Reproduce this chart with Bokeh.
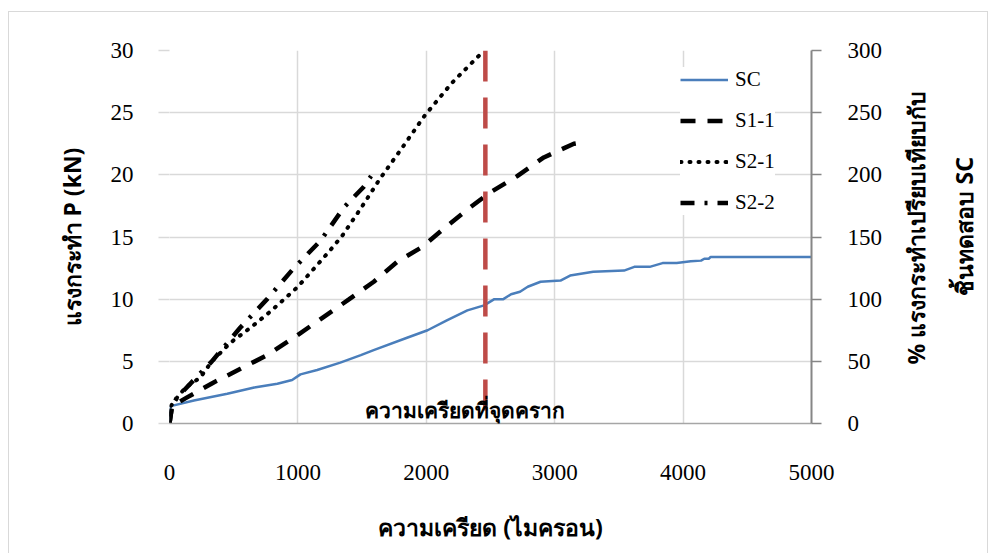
from bokeh.plotting import figure
from bokeh.models import Range1d, LinearAxis, FixedTicker, Legend, LegendItem, Label
from bokeh.layouts import row
from bokeh.embed import file_html
from bokeh.resources import INLINE
import math

# ---------------- data ----------------
x_ticks = [0, 1000, 2000, 3000, 4000, 5000]
y_ticks = [0, 5, 10, 15, 20, 25, 30]
pct_ticks = [0, 50, 100, 150, 200, 250, 300]

sc_x = [0, 10, 190, 450, 660, 840, 955, 1020, 1150, 1330, 1490, 1590, 1850, 2010,
        2160, 2320, 2450, 2530, 2600, 2660, 2730, 2790, 2890, 3045, 3120, 3300,
        3540, 3620, 3740, 3840, 3950, 4060, 4140, 4165, 4200, 4215, 5000]
sc_y = [0, 1.4, 1.85, 2.4, 2.9, 3.2, 3.5, 3.95, 4.3, 4.9, 5.5, 5.9, 6.9, 7.5,
        8.3, 9.1, 9.5, 10.0, 10.0, 10.4, 10.6, 11.0, 11.4, 11.5, 11.9, 12.2,
        12.3, 12.6, 12.6, 12.9, 12.9, 13.05, 13.1, 13.25, 13.25, 13.4, 13.4]

s11_x = [0, 20, 137, 344, 553, 761, 968, 1177, 1400, 1591, 1773, 1968, 2163,
         2344, 2461, 2500, 2708, 2915, 3149, 3210]
s11_y = [0, 1.4, 2.1, 3.3, 4.4, 5.5, 6.9, 8.4, 10.0, 11.4, 13.0, 14.2, 15.9,
         17.4, 18.3, 18.6, 19.9, 21.4, 22.5, 22.6]

s21_x = [0, 10, 60, 125, 240, 330, 475, 630, 785, 915, 1000, 1120, 1240, 1345,
         1490, 1640, 1800, 1990, 2200, 2450]
s21_y = [0, 1.4, 2.1, 2.9, 3.7, 5.0, 6.5, 7.7, 9.0, 10.2, 11.0, 12.4, 13.8, 15.1,
         17.3, 19.7, 22.0, 24.8, 27.4, 30.0]

s22_x = [0, 20, 60, 190, 330, 550, 760, 960, 1176, 1360, 1510, 1570]
s22_y = [0, 1.45, 2.1, 3.5, 5.0, 7.7, 10.0, 12.4, 14.7, 17.4, 19.0, 19.9]

crack_strain = 2460
crack_text = "ความเครียดที่จุดคราก"
crack_text_pos = (2305, 1.05)

x_label = "ความเครียด (ไมครอน)"
y_label = "แรงกระทำ P (kN)"
y2_label_1 = "% แรงกระทำเปรียบเทียบกับ"
y2_label_2 = "ชิ้นทดสอบ SC"

# ---------------- main figure ----------------
SERIF = "Liberation Serif"
THAI = "Noto Sans"

W1, W2, H = 881, 97, 541

p = figure(width=W1, height=H, output_backend="svg", toolbar_location=None,
           x_range=Range1d(0, 5000), y_range=Range1d(0, 30),
           min_border_left=160, min_border_right=79, min_border_top=38,
           min_border_bottom=130)
p.extra_y_ranges = {"pct": Range1d(0, 300)}
p.outline_line_color = None
p.background_fill_color = "white"
p.border_fill_color = "white"

p.xgrid.ticker = FixedTicker(ticks=x_ticks[:-1])
p.ygrid.ticker = FixedTicker(ticks=y_ticks)
p.grid.grid_line_color = "#d9d9d9"
p.grid.grid_line_width = 1.5

xa = p.xaxis[0]
xa.ticker = FixedTicker(ticks=x_ticks)
xa.axis_line_color = "#a6a6a6"
xa.axis_line_width = 1.5
xa.major_tick_out = 0
xa.major_tick_in = 0
xa.minor_tick_out = 0
xa.minor_tick_in = 0
xa.major_label_standoff = 41
xa.major_label_text_font = SERIF
xa.major_label_text_font_size = "23px"
xa.major_label_text_color = "#000000"
xa.axis_label = x_label
xa.axis_label_text_font = THAI
xa.axis_label_text_font_style = "bold"
xa.axis_label_text_font_size = "23px"
xa.axis_label_text_color = "#000000"
xa.axis_label_standoff = 28

ya = p.yaxis[0]
ya.ticker = FixedTicker(ticks=y_ticks)
ya.axis_line_color = None
ya.major_tick_line_color = "#d9d9d9"
ya.major_tick_line_width = 1.5
ya.major_tick_out = 11
ya.major_tick_in = 0
ya.minor_tick_out = 0
ya.minor_tick_in = 0
ya.major_label_standoff = 25
ya.major_label_text_font = SERIF
ya.major_label_text_font_size = "23px"
ya.major_label_text_color = "#000000"
ya.axis_label = y_label
ya.axis_label_text_font = THAI
ya.axis_label_text_font_style = "bold"
ya.axis_label_text_font_size = "23px"
ya.axis_label_text_color = "#000000"
ya.axis_label_standoff = 20

ra = LinearAxis(y_range_name="pct", ticker=FixedTicker(ticks=pct_ticks))
ra.axis_line_color = "#868686"
ra.axis_line_width = 2
ra.major_tick_line_color = "#868686"
ra.major_tick_line_width = 1.5
ra.major_tick_out = 10
ra.major_tick_in = 0
ra.minor_tick_out = 0
ra.minor_tick_in = 0
ra.major_label_standoff = 26
ra.major_label_text_font = SERIF
ra.major_label_text_font_size = "23px"
ra.major_label_text_color = "#000000"
p.add_layout(ra, "right")

r_sc = p.line(sc_x, sc_y, line_color="#4a7ebb", line_width=2.5)
r_s11 = p.line(s11_x, s11_y, line_color="black", line_width=4.5,
               line_dash="15 12")
r_s21 = p.line(s21_x, s21_y, line_color="black", line_width=4,
               line_dash="1 8", line_cap="round")
r_s22 = p.line(s22_x, s22_y, line_color="black", line_width=4.5,
               line_dash="14 10 3 10")
p.line([crack_strain, crack_strain], [y_ticks[-1], y_ticks[0]],
       line_color="#be4b48", line_width=4.5, line_dash="31 16")

p.add_layout(Label(x=crack_text_pos[0], y=crack_text_pos[1], text=crack_text,
                   text_font=THAI, text_font_style="bold", text_font_size="21px",
                   text_color="#000000", text_align="center",
                   text_baseline="middle"))

legend = Legend(items=[LegendItem(label="SC", renderers=[r_sc]),
                       LegendItem(label="S1-1", renderers=[r_s11]),
                       LegendItem(label="S2-1", renderers=[r_s21]),
                       LegendItem(label="S2-2", renderers=[r_s22])],
                location=(511, 208))
legend.margin = 0
legend.padding = 12
legend.spacing = 16
legend.glyph_width = 48
legend.glyph_height = 21
legend.label_height = 21
legend.label_standoff = 7
legend.label_text_font = SERIF
legend.label_text_font_size = "21px"
legend.label_text_color = "#000000"
legend.border_line_color = None
legend.background_fill_color = "white"
legend.background_fill_alpha = 1
p.add_layout(legend)

# ---------------- right-hand title panel ----------------
p2 = figure(width=W2, height=H, output_backend="svg", toolbar_location=None,
            x_range=Range1d(0, W2), y_range=Range1d(0, H),
            x_axis_type=None, y_axis_type=None, min_border=0)
p2.outline_line_color = None
p2.grid.visible = False
p2.background_fill_color = "white"
p2.border_fill_color = "white"
p2.add_layout(Label(x=25, y=284, text=y2_label_1, angle=math.pi / 2,
                    text_font=THAI, text_font_style="bold",
                    text_font_size="23px", text_color="#000000",
                    text_align="center", text_baseline="middle"))
p2.add_layout(Label(x=73, y=286, text=y2_label_2, angle=math.pi / 2,
                    text_font=THAI, text_font_style="bold",
                    text_font_size="23px", text_color="#000000",
                    text_align="center", text_baseline="middle"))

layout = row(p, p2)
layout.styles = {"margin-left": "8px", "margin-top": "11px",
                 "border-left": "1px solid #d9d9d9",
                 "border-top": "1px solid #d9d9d9",
                 "border-right": "1px solid #d9d9d9"}

open("out.html", "w").write(file_html(layout, INLINE))
